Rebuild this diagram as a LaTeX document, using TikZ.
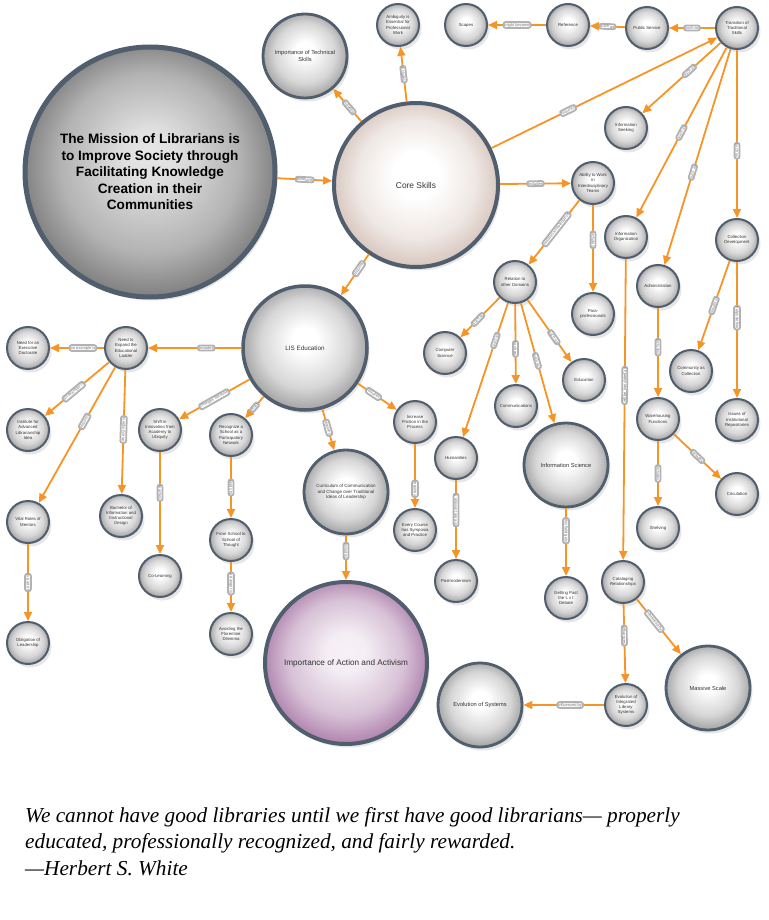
\documentclass[tikz,border=0pt]{standalone}
\usepackage{fontspec}
\setmainfont{Liberation Sans}
\newfontfamily\quotefont{Liberation Serif}
\usepackage{tikz}
\usetikzlibrary{arrows.meta, shadows}
\usepackage{xcolor}
\definecolor{rim}{RGB}{80, 94, 110}
\definecolor{link}{RGB}{247, 148, 38}
\definecolor{skinout}{RGB}{208, 188, 178}
\definecolor{violetout}{RGB}{166, 116, 164}
\pgfdeclareradialshading{bubble}{\pgfpoint{0bp}{4bp}}{color(0bp)=(white); color(5bp)=(white); color(18bp)=(black!16); color(25bp)=(black!34); color(32bp)=(black!42)}
\pgfdeclareradialshading{skin}{\pgfpoint{0bp}{4bp}}{color(0bp)=(white); color(7bp)=(white); color(18bp)=(skinout!35); color(25bp)=(skinout!80); color(32bp)=(skinout)}
\pgfdeclareradialshading{violet}{\pgfpoint{0bp}{4bp}}{color(0bp)=(white!90!violetout); color(6bp)=(white!88!violetout); color(18bp)=(violetout!45); color(25bp)=(violetout!85); color(32bp)=(violetout)}
\pgfdeclareradialshading{mission}{\pgfpoint{0bp}{4bp}}{color(0bp)=(white!90!black); color(5bp)=(white!88!black); color(18bp)=(black!30); color(25bp)=(black!48); color(32bp)=(black!55)}

\begin{document}
\begin{tikzpicture}[x=1pt, y=-1pt,
  hub/.style={circle, draw=rim, shading=bubble, align=center, inner sep=0pt, text=black!80,
    drop shadow={opacity=0.2, shadow xshift=2.5pt, shadow yshift=-3.5pt}},
  idea/.style={hub, minimum size=42pt, line width=2pt, font=\fontsize{4.3}{5.2}\selectfont},
  topic/.style={hub, minimum size=84pt, line width=2.8pt, font=\fontsize{5.7}{7}\selectfont},
  rel/.style={draw=link, line width=1.8pt, -{Triangle[length=9pt, width=8pt]}},
  lbl/.style={sloped, fill=white, draw=black!30, rounded corners=2pt, inner sep=1pt,
    text=black!55, font=\fontsize{4}{4.5}\selectfont}]
  \useasboundingbox (0,0) rectangle (768,920);

  % the four big ones
  \node[hub, minimum size=250pt, line width=5pt, shading=mission, text=black,
    font=\bfseries\fontsize{13.6}{16.5}\selectfont] (mission) at (150,172)
    {The Mission of Librarians is\\to Improve Society through\\Facilitating Knowledge\\Creation in their\\Communities};
  \node[hub, minimum size=164pt, line width=4pt, shading=skin, font=\fontsize{8.4}{10}\selectfont] (core) at (416,185) {Core Skills};
  \node[hub, minimum size=124pt, line width=3.5pt, font=\fontsize{6.3}{8}\selectfont] (lis) at (305,348) {LIS Education};
  \node[hub, minimum size=162pt, line width=4pt, shading=violet, font=\fontsize{8.2}{10}\selectfont] (action) at (346,663) {Importance of Action and Activism};

  % core skills branch
  \node[topic] (techskills) at (305,56) {Importance of Technical\\Skills};
  \node[idea] (ambiguity) at (398,25) {Ambiguity is\\Essential for\\Professional\\Work};
  \node[idea] (scapes) at (466,25) {Scapes};
  \node[idea] (reference) at (568,25) {Reference};
  \node[idea] (public) at (647,28) {Public Service};
  \node[idea] (transition) at (737,28) {Transition of\\Traditional\\Skills};
  \node[idea] (seeking) at (626,128) {Information\\Seeking};
  \node[idea] (ability) at (593,183) {Ability to Work\\in\\Interdisciplinary\\Teams};
  \node[idea] (infoorg) at (626,237) {Information\\Organization};
  \node[idea] (colldev) at (737,240) {Collection\\Development};
  \node[idea] (relation) at (515,282) {Relation to\\other Domains};
  \node[idea] (parapro) at (593,314) {Para-\\professionals};
  \node[idea] (admin) at (658,286) {Administration};
  \node[idea] (community) at (691,371) {Community as\\Collection};
  \node[idea] (repos) at (737,420) {Issues of\\Institutional\\Repositories};
  \node[idea] (warehouse) at (658,419) {Warehousing\\Functions};
  \node[idea] (circulation) at (737,494) {Circulation};
  \node[idea] (shelving) at (658,528) {Shelving};
  \node[idea] (compsci) at (445,353) {Computer\\Science};
  \node[idea] (comms) at (516,406) {Communications};
  \node[idea] (education) at (584,380) {Education};
  \node[idea] (humanities) at (456,458) {Humanities};
  \node[topic] (infosci) at (566,465) {Information Science};
  \node[idea] (postmod) at (456,581) {Postmodernism};
  \node[idea] (lvi) at (566,598) {Getting Past\\the L v I\\Debate};
  \node[idea] (catalog) at (623,582) {Cataloging\\Relationships};
  \node[idea] (ils) at (626,705) {Evolution of\\Integrated\\Library\\Systems};
  \node[topic] (massive) at (708,688) {Massive Scale};
  \node[topic] (evosys) at (480,705) {Evolution of Systems};

  % LIS education branch
  \node[idea] (ladder) at (126,348) {Need to\\Expand the\\Educational\\Ladder};
  \node[idea] (doctorate) at (28,348) {Need for an\\Executive\\Doctorate};
  \node[idea] (institute) at (28,430) {Institute for\\Advanced\\Librarianship\\Idea};
  \node[idea] (shift) at (160,430) {Shift in\\Innovation from\\Academy to\\Ubiquity};
  \node[idea] (network) at (231,435) {Recognize a\\School as a\\Participatory\\Network};
  \node[idea] (mentors) at (28,522) {Vital Roles of\\Mentors};
  \node[idea] (bachelor) at (121,516) {Bachelor of\\Information and\\Instructional\\Design};
  \node[idea] (colearn) at (160,576) {Co-Learning};
  \node[idea] (thought) at (231,540) {From School to\\School of\\Thought};
  \node[idea] (florentine) at (231,634) {Avoiding the\\Florentine\\Dilemma};
  \node[idea] (obligation) at (28,643) {Obligation of\\Leadership};
  \node[topic, font=\fontsize{4.5}{5.5}\selectfont] (curriculum) at (346,492) {Curriculum of Communication\\and Change over Traditional\\Ideas of Leadership};
  \node[idea] (friction) at (415,422) {Increase\\Friction in the\\Process};
  \node[idea] (symposia) at (415,530) {Every Course\\has Symposia\\and Practice};

  % links
  \draw[rel] (mission) -- node[lbl] {librarians} (core);
  \draw[rel] (core) -- node[lbl, pos=0.43] {includes} (techskills);
  \draw[rel] (core) -- node[lbl] {includes} (ambiguity);
  \draw[rel] (core) -- node[lbl, pos=0.34] {requires} (transition);
  \draw[rel] (core) -- node[lbl] {includes} (ability);
  \draw[rel] (core) -- node[lbl, pos=0.35] {requires} (lis);
  \draw[rel] (transition) -- node[lbl] {such as} (public);
  \draw[rel] (public) -- node[lbl] {such as} (reference);
  \draw[rel] (reference) -- node[lbl] {might become} (scapes);
  \draw[rel] (transition) -- node[lbl, pos=0.4] {such as} (seeking);
  \draw[rel] (transition) -- node[lbl] {such as} (infoorg);
  \draw[rel] (transition) -- node[lbl, pos=0.57] {such as} (admin);
  \draw[rel] (transition) -- node[lbl, pos=0.6] {such as} (colldev);
  \draw[rel] (ability) -- node[lbl, pos=0.45] {requires knowledge of} (relation);
  \draw[rel] (ability) -- node[lbl, pos=0.4] {includes} (parapro);
  \draw[rel] (relation) -- node[lbl, pos=0.55] {such as} (compsci);
  \draw[rel] (relation) -- node[lbl, pos=0.28] {such as} (humanities);
  \draw[rel] (relation) -- node[lbl, pos=0.56] {such as} (comms);
  \draw[rel] (relation) -- node[lbl, pos=0.48] {such as} (infosci);
  \draw[rel] (relation) -- node[lbl, pos=0.6] {such as} (education);
  \draw[rel] (colldev) -- node[lbl] {results in} (community);
  \draw[rel] (colldev) -- node[lbl, pos=0.41] {helps define} (repos);
  \draw[rel] (admin) -- node[lbl, pos=0.44] {includes} (warehouse);
  \draw[rel] (warehouse) -- node[lbl] {includes} (shelving);
  \draw[rel] (warehouse) -- node[lbl] {includes} (circulation);
  \draw[rel] (infoorg) -- node[lbl, pos=0.42] {will be translated as} (catalog);
  \draw[rel] (humanities) -- node[lbl, pos=0.38] {a relevant area is} (postmod);
  \draw[rel] (infosci) -- node[lbl, pos=0.33] {this field gets} (lvi);
  \draw[rel] (catalog) -- node[lbl, pos=0.4] {influences} (ils);
  \draw[rel] (catalog) -- node[lbl, pos=0.4] {influenced by} (massive);
  \draw[rel] (ils) -- node[lbl, pos=0.42] {influenced by} (evosys);
  \draw[rel] (lis) -- node[lbl, pos=0.375] {includes} (ladder);
  \draw[rel] (ladder) -- node[lbl, pos=0.39] {an example is} (doctorate);
  \draw[rel] (ladder) -- node[lbl, pos=0.55] {an example is} (institute);
  \draw[rel] (ladder) -- node[lbl, pos=0.4] {requires} (mentors);
  \draw[rel] (ladder) -- node[lbl, pos=0.48] {an example is} (bachelor);
  \draw[rel] (lis) -- node[lbl] {changes because} (shift);
  \draw[rel] (lis) -- node[lbl] {must} (network);
  \draw[rel] (lis) -- node[lbl, pos=0.45] {requires} (curriculum);
  \draw[rel] (lis) -- node[lbl, pos=0.4] {requires} (friction);
  \draw[rel] (friction) -- node[lbl, pos=0.7] {requires} (symposia);
  \draw[rel] (shift) -- node[lbl, pos=0.4] {teaches} (colearn);
  \draw[rel] (network) -- node[lbl] {leads to} (thought);
  \draw[rel] (thought) -- node[lbl, pos=0.43] {a danger is} (florentine);
  \draw[rel] (mentors) -- node[lbl] {is part of} (obligation);
  \draw[rel] (curriculum) -- node[lbl, pos=0.35] {includes} (action);

  % quote
  \node[anchor=north west, align=left, inner sep=0pt, font=\quotefont\itshape\fontsize{21.3}{26.5}\selectfont] (quote) at (25,807)
    {We cannot have good libraries until we first have good librarians— properly\\educated, professionally recognized, and fairly rewarded.\\—Herbert S. White};
\end{tikzpicture}
\end{document}
